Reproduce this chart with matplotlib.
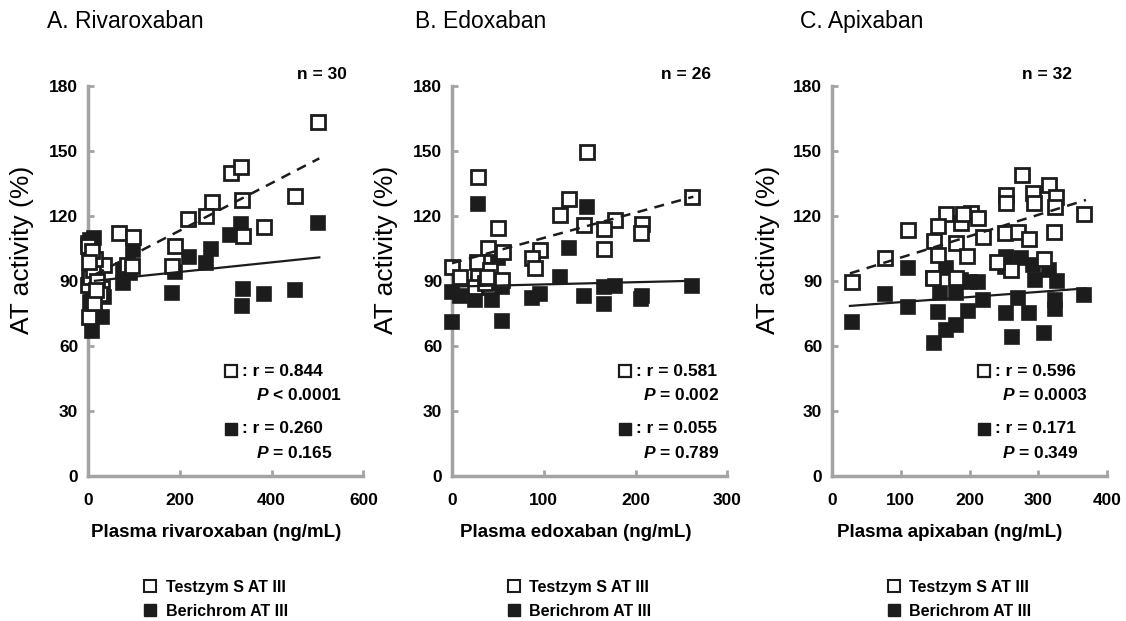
import matplotlib.pyplot as plt
from matplotlib.lines import Line2D

plt.rcParams['font.family'] = ['Liberation Sans', 'DejaVu Sans']
plt.rcParams['mathtext.fontset'] = 'custom'
plt.rcParams['mathtext.it'] = 'Liberation Sans:italic:bold'
plt.rcParams['mathtext.rm'] = 'Liberation Sans:bold'

# ---- data ----
# A. Rivaroxaban
riva_open_x = [501, 311, 333, 271, 335, 452, 217, 258, 384, 338, 68, 98, 189, 183, 34,
               85, 96, 0, 1, 30, 0, 5, 10, 15, 20, 8, 25, 12, 3, 18]
riva_open_y = [163.5, 139.7, 142.7, 126.6, 127.4, 129.2, 118.6, 120.1, 115.1, 110.9, 112, 110.5,
               106.3, 96.9, 97.4, 97.4, 96.9, 106, 73.5, 86.6, 88.1, 92, 95, 100, 90, 104, 84, 80, 99, 86]
riva_fill_x = [501, 333, 309, 269, 220, 256, 189, 183, 337, 335, 384, 450, 98, 77, 77, 92,
               12, 4, 12, 1, 8, 34, 4, 30, 8, 15, 12, 0, 11, 10]
riva_fill_y = [116.6, 116.3, 111.2, 104.8, 100.9, 98.5, 94, 84.3, 86.2, 78.5, 83.9, 85.8, 104.3,
               95.1, 88.9, 93.5, 98.2, 108.9, 110, 92, 82.8, 82.8, 80.4, 73.5, 66.9, 87.4, 76.6,
               107.4, 98.5, 94.6]
riva_fit_x = [15, 504]
riva_fit_open = [93, 146.6]
riva_fit_fill = [90.1, 100.9]

# B. Edoxaban
edo_open_x = [147.6, 28, 261.5, 128, 117.8, 177.8, 144.3, 165.8, 207, 206, 50.5, 165.8, 96,
              87.6, 90.5, 56, 39.6, 27, 0, 8.7, 28.7, 41.5, 54, 25, 36, 38]
edo_open_y = [149.7, 138.1, 128.9, 127.7, 120.5, 118.1, 115.8, 113.8, 116.3, 112, 114.3, 104.8,
              104.3, 100.7, 96.1, 103.5, 105.1, 98.9, 96.6, 92, 92, 95, 90.5, 87.4, 88.9, 92]
edo_fill_x = [28, 147, 128, 117.8, 261.5, 177.8, 165.8, 144.3, 165.8, 207, 206, 96, 87.6, 54,
              54, 0, 0, 8.7, 25, 43.3, 50.5, 39.6, 28.7, 39.6, 34, 27]
edo_fill_y = [125.4, 124.3, 105.4, 92, 87.8, 87.7, 87.4, 83.1, 79.2, 83.1, 81.5, 84, 82, 87.4,
              71.7, 71.2, 85, 83.1, 81.2, 81.2, 100.5, 95.1, 88.9, 88.9, 92, 86.6]
edo_fit_x = [0, 263]
edo_fit_open = [98.2, 128.9]
edo_fit_fill = [87.4, 90.1]

# C. Apixaban
api_open_x = [275.8, 316, 291.8, 253.2, 253.2, 294.2, 325.6, 324.6, 366.7, 165.2, 202.5, 212,
              187, 154, 109.7, 323.2, 250.7, 270, 285.5, 219.3, 148.3, 179.7, 154, 196.7, 76.8,
              260.4, 308.7, 146.8, 180.7, 28.5, 240, 190]
api_open_y = [138.9, 134.3, 130.5, 129.7, 125.9, 126.1, 128.9, 124.3, 120.8, 120.9, 121.5, 119.2,
              116.9, 115.5, 113.5, 112.7, 112, 112.7, 109.4, 110.4, 108.5, 107.7, 102, 101.7, 100.7,
              95.1, 100, 91.2, 91.2, 89.7, 99, 121]
api_fill_x = [110.6, 76.8, 28.5, 110.6, 146.8, 165.2, 156.5, 180.7, 154, 197.5, 165.2, 180.7,
              148.3, 188, 200, 212, 219.3, 253.2, 250.7, 275, 291.8, 316, 326.5, 295.2, 270, 253.2,
              285.5, 324.2, 324.2, 366.7, 261.9, 308.7]
api_fill_y = [96.1, 84, 71.2, 78.1, 91.2, 95.8, 84.3, 84.6, 75.5, 76.3, 67.4, 69.7, 61.2, 90.5,
              89.7, 89.7, 81.2, 101.2, 96.6, 100.5, 97.4, 95.1, 90.1, 90.5, 82, 75.1, 75.1, 81.2,
              76.9, 83.5, 64.3, 65.9]
api_fit_x = [26, 369]
api_fit_open = [93.5, 127.4]
api_fit_fill = [78.5, 86.6]

titles = ['A. Rivaroxaban', 'B. Edoxaban', 'C. Apixaban']
xlabels = ['Plasma rivaroxaban (ng/mL)', 'Plasma edoxaban (ng/mL)', 'Plasma apixaban (ng/mL)']
n_labels = ['n = 30', 'n = 26', 'n = 32']
r_open = ['0.844', '0.581', '0.596']
p_open = ['< 0.0001', '= 0.002', '= 0.0003']
r_fill = ['0.260', '0.055', '0.171']
p_fill = ['= 0.165', '= 0.789', '= 0.349']
xmax = [600, 300, 400]
xstep = [200, 100, 100]

panels = [
    (riva_open_x, riva_open_y, riva_fill_x, riva_fill_y, riva_fit_x, riva_fit_open, riva_fit_fill),
    (edo_open_x, edo_open_y, edo_fill_x, edo_fill_y, edo_fit_x, edo_fit_open, edo_fit_fill),
    (api_open_x, api_open_y, api_fill_x, api_fill_y, api_fit_x, api_fit_open, api_fit_fill),
]

# layout (figure / axes fractions)
lefts = [0.0782, 0.4014, 0.7389]
n_xpos = [0.94, 0.94, 0.873]
box_xpos = [0.50, 0.607, 0.533]
p_xpos = [0.61, 0.695, 0.616]
title_xpos = [-0.15, -0.135, -0.116]
xlabel_xpos = [0.464, 0.451, 0.428]
ylabel_xpos = [-0.197, -0.196, -0.19]

ink = '#1c1c1c'
axis_grey = '#a3a3a3'

fig = plt.figure(figsize=(11.26, 6.21), dpi=100)

for i, (ox, oy, fx, fy, tx, to, tf) in enumerate(panels):
    ax = fig.add_axes([lefts[i], 0.2335, 0.2445, 0.628])
    ax.plot(fx, fy, 's', ms=9.5, mfc=ink, mec=ink, mew=1.2, ls='none', clip_on=False, zorder=3)
    ax.plot(ox, oy, 's', ms=9.5, mfc='white', mec=ink, mew=2.0, ls='none', clip_on=False, zorder=4)
    ax.plot(tx, to, ls=(0, (4, 3)), color=ink, lw=1.8, zorder=5)
    ax.plot(tx, tf, ls='-', color=ink, lw=1.6, zorder=5)

    ax.set_xlim(0, xmax[i])
    ax.set_ylim(0, 180)
    ax.set_xticks(range(0, xmax[i] + 1, xstep[i]))
    ax.set_yticks(range(0, 181, 30))
    for s in ['top', 'right']:
        ax.spines[s].set_visible(False)
    for s in ['left', 'bottom']:
        ax.spines[s].set_color(axis_grey)
        ax.spines[s].set_linewidth(2.5)
    ax.tick_params(direction='in', length=4, width=2, color=axis_grey, labelsize=12.5)
    ax.tick_params(axis='x', pad=12)
    ax.tick_params(axis='y', pad=7)
    for lab in ax.get_xticklabels() + ax.get_yticklabels():
        lab.set_fontweight('bold')

    ax.set_ylabel('AT activity (%)', fontsize=19)
    ax.yaxis.set_label_coords(ylabel_xpos[i], 0.58)
    ax.set_xlabel(xlabels[i], fontsize=13.5, fontweight='bold')
    ax.xaxis.set_label_coords(xlabel_xpos[i], -0.122)
    ax.text(title_xpos[i], 1.165, titles[i], transform=ax.transAxes, fontsize=16.5,
            ha='left', va='center')
    ax.text(n_xpos[i], 1.03, n_labels[i], transform=ax.transAxes, fontsize=12.5,
            fontweight='bold', ha='right', va='center')

    # correlation notes
    ax.plot([box_xpos[i] + 0.02], [0.269], 's', ms=9, mfc='white', mec=ink, mew=1.6,
            transform=ax.transAxes, clip_on=False)
    ax.text(box_xpos[i] + 0.06, 0.269, ': r = ' + r_open[i], transform=ax.transAxes,
            fontsize=12.5, fontweight='bold', ha='left', va='center')
    ax.text(p_xpos[i], 0.208, '$P$ ' + p_open[i], transform=ax.transAxes, fontsize=12.5,
            fontweight='bold', ha='left', va='center')
    ax.plot([box_xpos[i] + 0.02], [0.121], 's', ms=9, mfc=ink, mec=ink,
            transform=ax.transAxes, clip_on=False)
    ax.text(box_xpos[i] + 0.06, 0.121, ': r = ' + r_fill[i], transform=ax.transAxes,
            fontsize=12.5, fontweight='bold', ha='left', va='center')
    ax.text(p_xpos[i], 0.059, '$P$ ' + p_fill[i], transform=ax.transAxes, fontsize=12.5,
            fontweight='bold', ha='left', va='center')

    handles = [
        Line2D([], [], marker='s', ls='none', ms=8.5, mfc='white', mec=ink, mew=1.5),
        Line2D([], [], marker='s', ls='none', ms=8.5, mfc=ink, mec=ink),
    ]
    ax.legend(handles, ['Testzym S AT III', 'Berichrom AT III'], loc='upper left',
              bbox_to_anchor=(0.145, -0.23), frameon=False,
              handlelength=1.0, handletextpad=0.45, labelspacing=0.55,
              prop={'family': ['Liberation Sans Narrow', 'Liberation Sans'],
                    'weight': 'bold', 'size': 11.5})

fig.savefig('out.png', dpi=100)
